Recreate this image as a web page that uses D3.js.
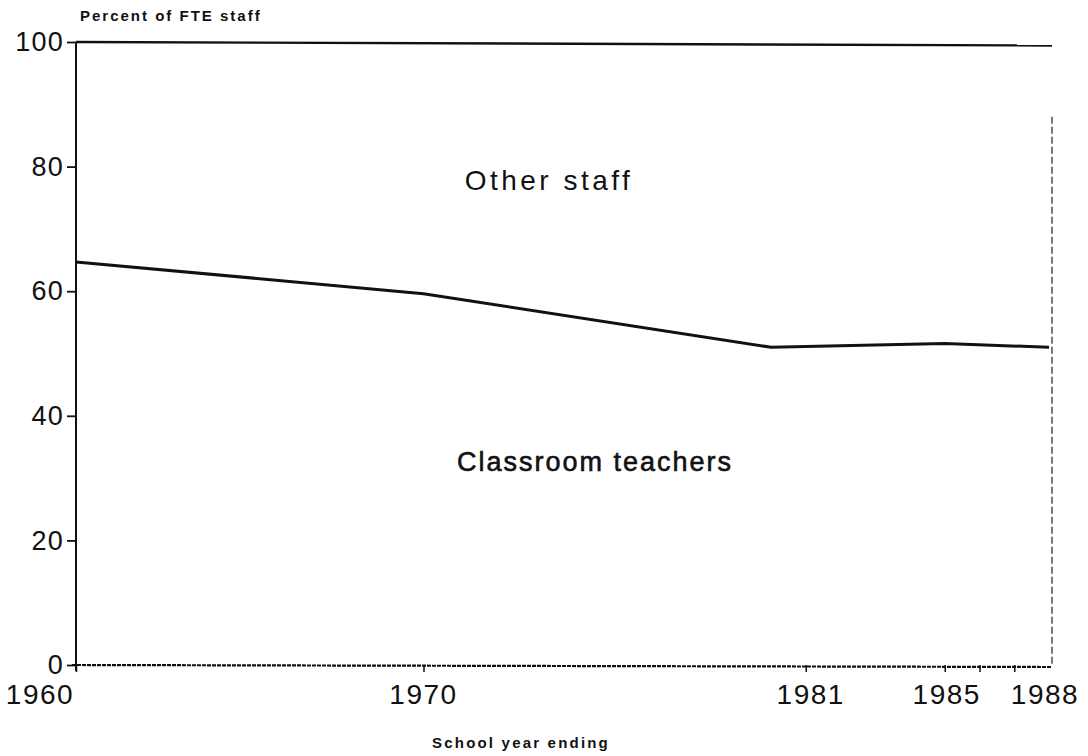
<!DOCTYPE html>
<html><head><meta charset="utf-8">
<script src="https://cdn.jsdelivr.net/npm/d3@7"></script>
<style>body{margin:0;background:#fff}svg{display:block}</style>
</head><body>
<svg id="c" width="1088" height="756"></svg>
<script>
const years = [1960, 1970, 1980, 1985, 1988];
const teacherPct = [64.7, 59.6, 51.0, 51.6, 51.0];
const xTickYears = [1960, 1970, 1981, 1985, 1986, 1987];
const xTickLabels = [1960, 1970, 1981, 1985, 1988];
const yTicks = [0, 20, 40, 60, 80, 100];
const areaLabels = ["Other staff", "Classroom teachers"];

const svg = d3.select("#c");
const font = "'Liberation Sans', Arial, sans-serif";
const x = d3.scaleLinear().domain([1960, 1988]).range([76, 1049]);
const y = d3.scaleLinear().domain([0, 100]).range([665, 42]);

// y axis
const yAxis = d3.axisLeft(y).tickValues(yTicks).tickSize(9).tickPadding(3);
const gy = svg.append("g").attr("transform", `translate(${x(1960)},0)`).call(yAxis);
gy.select(".domain").remove();
gy.selectAll("text").attr("font-family", font).attr("font-size", 27)
  .attr("letter-spacing", 1.2).attr("fill", "#111");
gy.selectAll("line").attr("stroke", "#111").attr("stroke-width", 1.8);

// x axis
const xAxis = d3.axisBottom(x).tickValues(xTickYears).tickSize(7).tickFormat("");
const gx = svg.append("g").attr("transform", "translate(0,665)").call(xAxis);
gx.select(".domain").remove();
gx.selectAll("line").attr("stroke", "#111").attr("stroke-width", 1.5);
const labelShift = {1960: -36, 1970: 0, 1981: 5, 1985: 2, 1988: -4};
svg.append("g").selectAll("text").data(xTickLabels).join("text")
  .attr("x", d => x(d) + labelShift[d]).attr("y", 704).attr("text-anchor", "middle")
  .attr("font-family", font).attr("font-size", 28).attr("letter-spacing", 1.5)
  .attr("fill", "#111").text(d => d);

// frame
svg.append("line").attr("x1", x(1960)).attr("x2", x(1960)).attr("y1", y(100)).attr("y2", y(0) + 6)
  .attr("stroke", "#111").attr("stroke-width", 2);
svg.append("line").attr("x1", x(1960) - 4).attr("x2", x(1988) + 3).attr("y1", y(0)).attr("y2", y(0) + 2)
  .attr("stroke", "#111").attr("stroke-width", 2.2).attr("stroke-dasharray", "4,1");
svg.append("line").attr("x1", x(1960)).attr("x2", x(1988) + 3).attr("y1", y(100)).attr("y2", y(100) + 3.5)
  .attr("stroke", "#111").attr("stroke-width", 2.4);
svg.append("line").attr("x1", x(1988) + 3).attr("x2", x(1988) + 3).attr("y1", y(88)).attr("y2", y(0))
  .attr("stroke", "#333").attr("stroke-width", 1.3).attr("stroke-dasharray", "7,3");

// line
const line = d3.line().x((d, i) => x(years[i])).y(d => y(d));
svg.append("path").datum(teacherPct).attr("d", line)
  .attr("fill", "none").attr("stroke", "#111").attr("stroke-width", 3);

// labels
svg.append("text").attr("x", 80).attr("y", 21).attr("font-family", font)
  .attr("font-size", 15).attr("font-weight", "bold").attr("letter-spacing", 2)
  .attr("fill", "#111").text("Percent of FTE staff");
svg.append("text").attr("x", 521).attr("y", 748).attr("text-anchor", "middle").attr("font-family", font)
  .attr("font-size", 15).attr("font-weight", "bold").attr("letter-spacing", 2.2)
  .attr("fill", "#111").text("School year ending");
svg.append("text").attr("x", 549).attr("y", 190).attr("text-anchor", "middle").attr("font-family", font)
  .attr("font-size", 28).attr("letter-spacing", 3.5).attr("fill", "#111").text(areaLabels[0]);
svg.append("text").attr("x", 595).attr("y", 471).attr("text-anchor", "middle").attr("font-family", font)
  .attr("font-size", 27).attr("letter-spacing", 2).attr("fill", "#111")
  .attr("stroke", "#111").attr("stroke-width", 0.6).text(areaLabels[1]);
</script>
</body></html>
